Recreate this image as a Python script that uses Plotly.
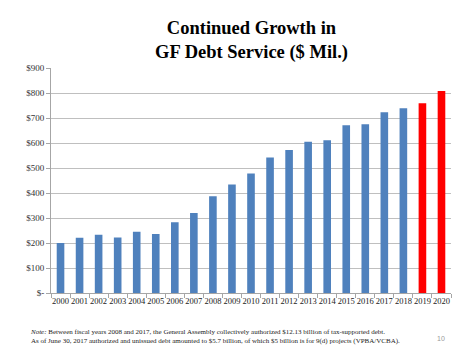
import plotly.graph_objects as go

years = [str(y) for y in range(2000, 2021)]
debt_service = [200, 221, 233, 222, 245, 236, 283, 320, 387, 434, 478, 542, 572, 605, 611, 671, 675, 723, 739, 759, 808]
bar_colors = ["#4F81BD"] * 19 + ["#FF0000"] * 2
y_ticks = [0, 100, 200, 300, 400, 500, 600, 700, 800, 900]
y_tick_labels = ["$-", "$100", "$200", "$300", "$400", "$500", "$600", "$700", "$800", "$900"]

serif = "Liberation Serif, Times New Roman, serif"

fig = go.Figure(go.Bar(x=years, y=debt_service, marker=dict(color=bar_colors, line=dict(width=0)),
                       hoverinfo="x+y"))

fig.update_layout(
    width=474, height=355,
    margin=dict(l=51, r=23, t=68, b=62, autoexpand=False),
    paper_bgcolor="white", plot_bgcolor="white",
    bargap=0.6,
    showlegend=False,
    font=dict(family=serif, color="#333333"),
)
fig.update_yaxes(range=[0, 900], tickvals=y_ticks, ticktext=y_tick_labels, automargin=False,
                 showgrid=True, gridcolor="#BFBFBF", gridwidth=1,
                 showline=True, linecolor="#A6A6A6", linewidth=1,
                 ticks="outside", ticklen=4, tickcolor="#A6A6A6",
                 tickfont=dict(family=serif, size=9, color="#333333"), zeroline=False)
fig.update_xaxes(showline=True, linecolor="#A6A6A6", linewidth=1, automargin=False,
                 ticks="outside", tickson="boundaries", ticklen=4, tickcolor="#A6A6A6",
                 tickfont=dict(family=serif, size=8.5, color="#222222"), tickangle=0)

fig.add_annotation(xref="paper", yref="paper", x=0.5, y=1.0, yshift=52, xanchor="center", yanchor="top",
                   showarrow=False, text="<b>Continued Growth in<br>GF Debt Service ($ Mil.)</b>",
                   font=dict(family=serif, size=18.5, color="black"))
fig.add_annotation(xref="paper", yref="paper", x=-0.058, y=0, yshift=-33, xanchor="left", yanchor="top",
                   align="left", showarrow=False,
                   text="<i>Note:</i> Between fiscal years 2008 and 2017, the General Assembly collectively authorized $12.13 billion of tax-supported debt.<br>"
                        "As of June 30, 2017 authorized and unissued debt amounted to $5.7 billion, of which $5 billion is for 9(d) projects (VPBA/VCBA).",
                   font=dict(family=serif, size=7, color="#222222"))
fig.add_annotation(xref="paper", yref="paper", x=0.975, y=0, yshift=-40, xanchor="center", yanchor="top",
                   showarrow=False, text="10", font=dict(family="Arial, sans-serif", size=7, color="#999999"))

fig.write_html("out.html", config={"displayModeBar": False},
               post_script="document.body.style.margin='0';document.body.style.padding='0';")
